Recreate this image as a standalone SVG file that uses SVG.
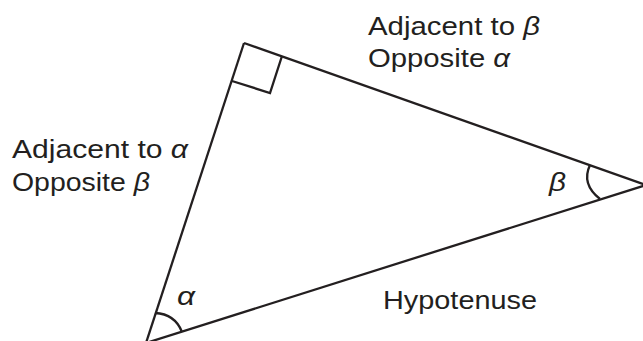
<svg xmlns="http://www.w3.org/2000/svg" width="643" height="341" viewBox="0 0 643 341">
<style>
.ln{fill:none;stroke:#231f20;stroke-width:2.3;stroke-linejoin:miter}
.t{font-family:"Liberation Sans",Arial,sans-serif;font-size:26px;fill:#231f20}
.g{font-style:italic}
</style>
<rect width="643" height="341" fill="#fff"/>
<g id="connectors">
<path id="side-top" class="ln" d="M244,43 L646,185"/>
<path id="side-left" class="ln" d="M244,43 L146,343"/>
<path id="hypotenuse" class="ln" d="M146,343 L646,185"/>
<path id="right-angle" class="ln" d="M282,56 L270,93 L232,81"/>
<path id="arc-alpha" class="ln" d="M155,313 Q175,314 182,332"/>
<path id="arc-beta" class="ln" d="M590,165 Q581,184 600,199"/>
</g>
<g id="label-top">
<text class="t" x="368" y="35" textLength="172" lengthAdjust="spacingAndGlyphs">Adjacent to <tspan class="g">β</tspan></text>
<text class="t" x="368" y="67" textLength="142" lengthAdjust="spacingAndGlyphs">Opposite <tspan class="g">α</tspan></text>
</g>
<g id="label-left">
<text class="t" x="12" y="158" textLength="176" lengthAdjust="spacingAndGlyphs">Adjacent to <tspan class="g">α</tspan></text>
<text class="t" x="12" y="191" textLength="138" lengthAdjust="spacingAndGlyphs">Opposite <tspan class="g">β</tspan></text>
</g>
<g id="label-hyp"><text class="t" x="383" y="309" textLength="154" lengthAdjust="spacingAndGlyphs">Hypotenuse</text></g>
<g id="label-alpha"><text class="t g" x="177" y="305" textLength="18" lengthAdjust="spacingAndGlyphs">α</text></g>
<g id="label-beta"><text class="t g" x="549" y="191" textLength="17" lengthAdjust="spacingAndGlyphs">β</text></g>
</svg>
